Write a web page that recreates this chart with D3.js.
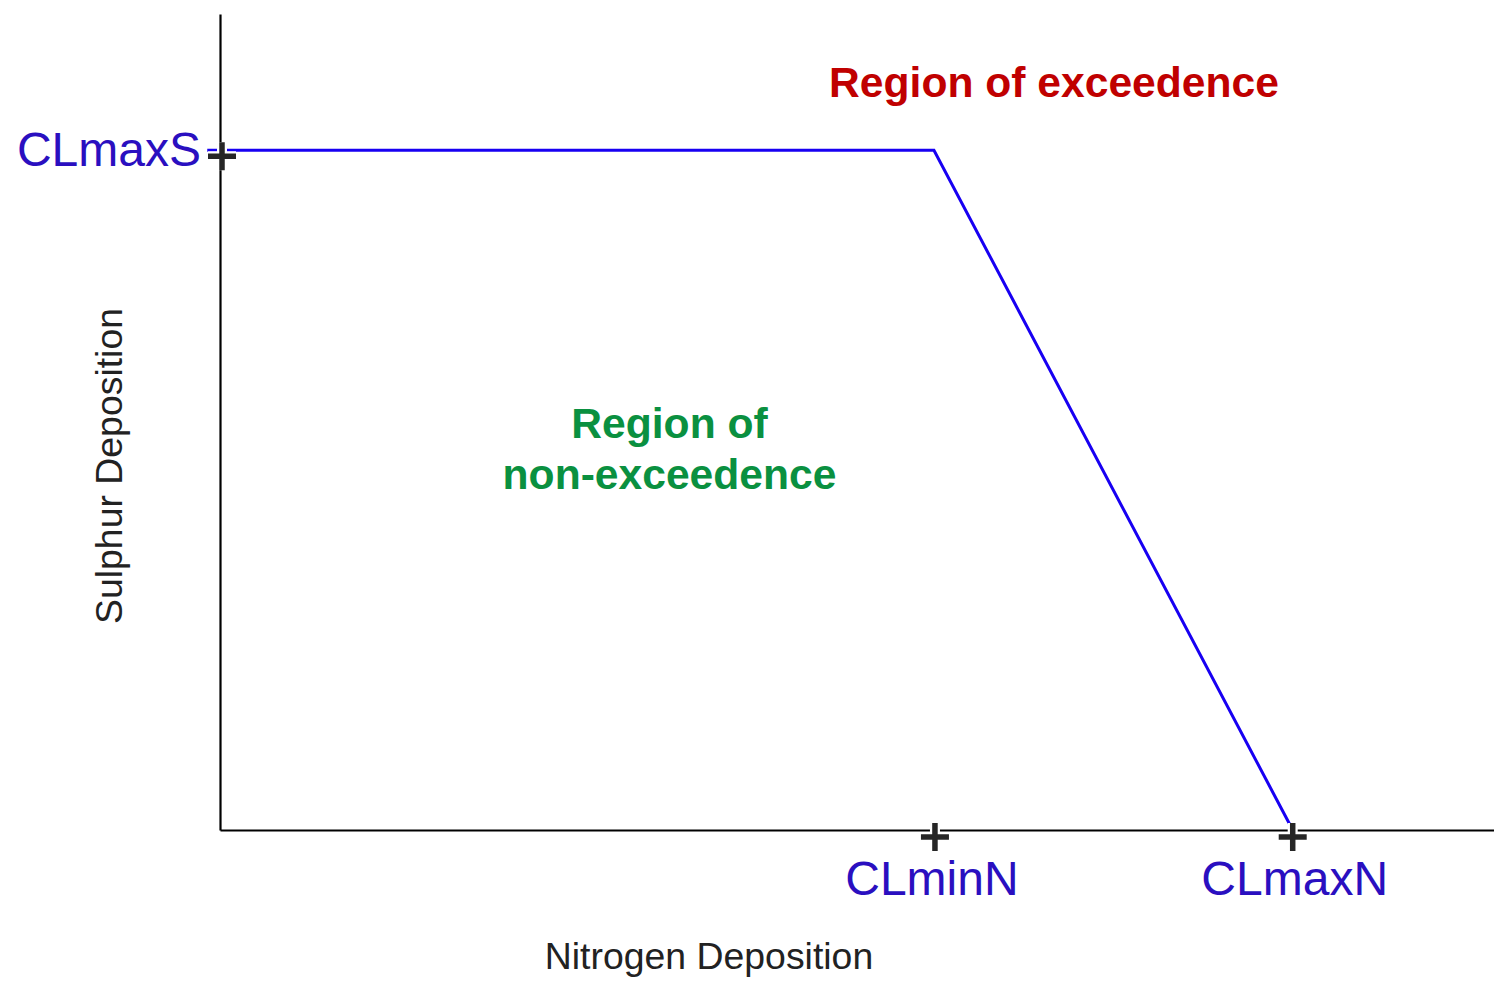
<!DOCTYPE html>
<html>
<head>
<meta charset="utf-8">
<script src="https://cdn.jsdelivr.net/npm/d3@7"></script>
<style>
  html, body { margin: 0; padding: 0; background: #fff; }
  svg { display: block; font-family: "Liberation Sans", Arial, sans-serif; }
</style>
</head>
<body>
<svg id="chart" width="1494" height="983"></svg>
<script>
// Critical load function (schematic, relative units 0..1)
const critLabels = ["CLmaxS", "CLminN", "CLmaxN"];
const critValues = [0.833, 0.5604, 0.842];          // CLmaxS (S axis), CLminN, CLmaxN (N axis)
const boundaryN = [-0.01, 0.5604, 0.842];           // nitrogen deposition along the boundary
const boundaryS = [0.833, 0.833, 0];                // sulphur deposition along the boundary
const regionLabels = ["Region of exceedence", "Region of", "non-exceedence"];
const axisTitles = ["Nitrogen Deposition", "Sulphur Deposition"];

const W = 1494, H = 983;
const margin = { top: 14, right: 0, bottom: 153, left: 220 };
const svg = d3.select("#chart");

const x = d3.scaleLinear().domain([0, 1]).range([margin.left, W - margin.right]);
const y = d3.scaleLinear().domain([0, 1]).range([H - margin.bottom, margin.top]);

// Axes: bare lines, no ticks
svg.append("g")
  .attr("transform", `translate(0,${y(0)})`)
  .call(d3.axisBottom(x).tickValues([]).tickSizeOuter(0))
  .call(g => g.select(".domain").attr("stroke", "#000").attr("stroke-width", 2.2));
svg.append("g")
  .attr("transform", `translate(${x(0)},0)`)
  .call(d3.axisLeft(y).tickValues([]).tickSizeOuter(0))
  .call(g => g.select(".domain").attr("stroke", "#000").attr("stroke-width", 2.2));

// Boundary between exceedence / non-exceedence
const pts = boundaryN.map((n, i) => [n, boundaryS[i]]);
svg.append("path")
  .datum(pts)
  .attr("fill", "none")
  .attr("stroke", "#1800f2")
  .attr("stroke-width", 3)
  .attr("d", d3.line().x(d => x(d[0])).y(d => y(d[1])));

// Cross markers at the critical loads
const crossPath = "M-14,0H14M0,-14V14";
const markers = [
  { label: critLabels[0], cx: x(0) + 2, cy: y(critValues[0]) + 6 },
  { label: critLabels[1], cx: x(critValues[1]) + 1, cy: y(0) + 7 },
  { label: critLabels[2], cx: x(critValues[2]), cy: y(0) + 7 }
];
const mg = svg.append("g").selectAll("g").data(markers).join("g")
  .attr("transform", d => `translate(${d.cx},${d.cy})`);
mg.append("path").attr("d", crossPath).attr("stroke", "#fff").attr("stroke-width", 10).attr("fill", "none");
mg.append("path").attr("d", crossPath).attr("stroke", "#262626").attr("stroke-width", 5.5).attr("fill", "none");

// Critical load labels
const labelColor = "#2a0fc0";
const labelSize = 48;
svg.append("text")
  .attr("x", x(0) - 19).attr("y", y(critValues[0]) + 16)
  .attr("text-anchor", "end")
  .attr("font-size", labelSize).attr("fill", labelColor)
  .text(critLabels[0]);
svg.append("text")
  .attr("x", x(critValues[1]) - 2).attr("y", y(0) + 65)
  .attr("text-anchor", "middle")
  .attr("font-size", labelSize).attr("fill", labelColor)
  .text(critLabels[1]);
svg.append("text")
  .attr("x", x(critValues[2]) + 2).attr("y", y(0) + 65)
  .attr("text-anchor", "middle")
  .attr("font-size", labelSize).attr("fill", labelColor)
  .text(critLabels[2]);

// Region annotations
svg.append("text")
  .attr("x", 1054).attr("y", 97)
  .attr("text-anchor", "middle")
  .attr("font-size", 42.6).attr("font-weight", "bold").attr("fill", "#c00000")
  .text(regionLabels[0]);
const green = svg.append("text")
  .attr("text-anchor", "middle")
  .attr("font-size", 42.6).attr("font-weight", "bold").attr("fill", "#0a9040");
green.append("tspan").attr("x", 669.5).attr("y", 438).text(regionLabels[1]);
green.append("tspan").attr("x", 669.5).attr("y", 489).text(regionLabels[2]);

// Axis titles
svg.append("text")
  .attr("x", 709).attr("y", 969)
  .attr("text-anchor", "middle")
  .attr("font-size", 37.4).attr("fill", "#222")
  .text(axisTitles[0]);
svg.append("text")
  .attr("transform", "translate(122,466) rotate(-90)")
  .attr("text-anchor", "middle")
  .attr("font-size", 37.4).attr("fill", "#222")
  .text(axisTitles[1]);
</script>
</body>
</html>
